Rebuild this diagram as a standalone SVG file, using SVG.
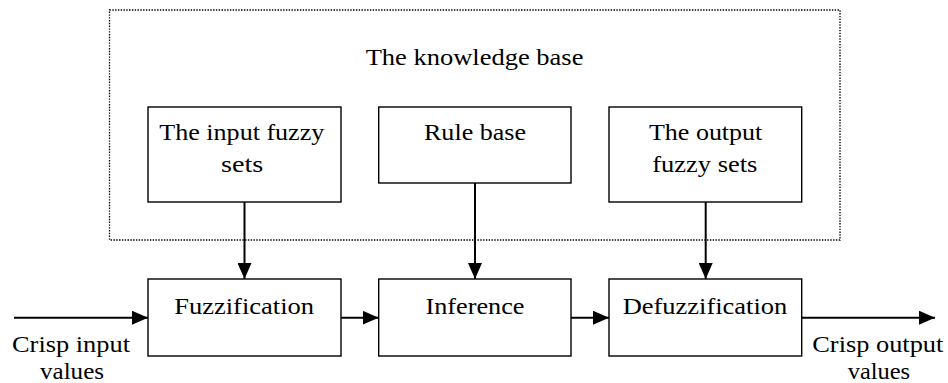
<svg xmlns="http://www.w3.org/2000/svg" width="948" height="383" viewBox="0 0 948 383">
<style>
.box{fill:#fff;stroke:#000;stroke-width:1.4}
.kb{fill:none;stroke:#000;stroke-width:1.3;stroke-dasharray:1.4 1.4}
.conn{stroke:#000;stroke-width:2;fill:none;marker-end:url(#ah)}
</style>
<defs>
<marker id="ah" viewBox="0 0 16 14" refX="16" refY="7" markerWidth="16" markerHeight="14" markerUnits="userSpaceOnUse" orient="auto">
<path d="M0,0 L16,7 L0,14 Z" fill="#000"/>
</marker>
</defs>
<rect fill="#fff" x="0" y="0" width="948" height="383"/>
<g id="knowledge-base">
<rect class="kb" x="109.5" y="10" width="730.5" height="230"/>
<text x="365.7" y="65" font-family="Liberation Serif" font-size="24" textLength="217.7" lengthAdjust="spacingAndGlyphs">The knowledge base</text>
</g>
<g id="input-fuzzy-sets">
<rect class="box" x="148" y="107" width="193" height="95"/>
<text x="159.3" y="140" font-family="Liberation Serif" font-size="24" textLength="165" lengthAdjust="spacingAndGlyphs">The input fuzzy</text>
<text x="221" y="171.5" font-family="Liberation Serif" font-size="24" textLength="42.3" lengthAdjust="spacingAndGlyphs">sets</text>
</g>
<g id="rule-base">
<rect class="box" x="378.7" y="107" width="192.3" height="76"/>
<text x="424" y="140" font-family="Liberation Serif" font-size="24" textLength="102" lengthAdjust="spacingAndGlyphs">Rule base</text>
</g>
<g id="output-fuzzy-sets">
<rect class="box" x="609" y="107" width="192.7" height="95"/>
<text x="649" y="140" font-family="Liberation Serif" font-size="24" textLength="113.3" lengthAdjust="spacingAndGlyphs">The output</text>
<text x="652.3" y="171.5" font-family="Liberation Serif" font-size="24" textLength="105" lengthAdjust="spacingAndGlyphs">fuzzy sets</text>
</g>
<g id="fuzzification">
<rect class="box" x="148" y="279" width="193" height="77"/>
<text x="174.3" y="314.3" font-family="Liberation Serif" font-size="24" textLength="139.7" lengthAdjust="spacingAndGlyphs">Fuzzification</text>
</g>
<g id="inference">
<rect class="box" x="378.7" y="279" width="192.3" height="77"/>
<text x="425.5" y="314.3" font-family="Liberation Serif" font-size="24" textLength="99" lengthAdjust="spacingAndGlyphs">Inference</text>
</g>
<g id="defuzzification">
<rect class="box" x="609" y="279" width="192.7" height="77"/>
<text x="622.7" y="314.3" font-family="Liberation Serif" font-size="24" textLength="164.6" lengthAdjust="spacingAndGlyphs">Defuzzification</text>
</g>
<g id="crisp-input">
<text x="12" y="352" font-family="Liberation Serif" font-size="24" textLength="118" lengthAdjust="spacingAndGlyphs">Crisp input</text>
<text x="40" y="379" font-family="Liberation Serif" font-size="24" textLength="64" lengthAdjust="spacingAndGlyphs">values</text>
</g>
<g id="crisp-output">
<text x="812.3" y="352" font-family="Liberation Serif" font-size="24" textLength="131" lengthAdjust="spacingAndGlyphs">Crisp output</text>
<text x="847.7" y="379" font-family="Liberation Serif" font-size="24" textLength="62.3" lengthAdjust="spacingAndGlyphs">values</text>
</g>
<g id="connectors">
<line class="conn" x1="244.5" y1="202" x2="244.5" y2="279"/>
<line class="conn" x1="475" y1="183" x2="475" y2="279"/>
<line class="conn" x1="705.7" y1="202" x2="705.7" y2="279"/>
<line class="conn" x1="14" y1="317.7" x2="148" y2="317.7"/>
<line class="conn" x1="341" y1="317.7" x2="378.7" y2="317.7"/>
<line class="conn" x1="571" y1="317.7" x2="609" y2="317.7"/>
<line class="conn" x1="801.7" y1="317.7" x2="935" y2="317.7"/>
</g>
</svg>
